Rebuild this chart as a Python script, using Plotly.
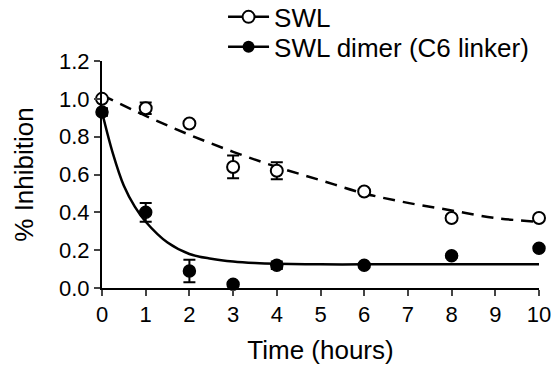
import plotly.graph_objects as go

# Measured data
time_h = [0, 1, 2, 3, 4, 6, 8, 10]
swl_mean = [1.00, 0.95, 0.87, 0.64, 0.62, 0.51, 0.37, 0.37]
swl_err = [0.01, 0.03, 0.01, 0.06, 0.045, 0.01, 0.01, 0.01]
dimer_mean = [0.93, 0.40, 0.09, 0.02, 0.12, 0.12, 0.17, 0.21]
dimer_err = [0.02, 0.05, 0.06, 0.01, 0.02, 0.01, 0.01, 0.01]

# Fitted curves
swl_fit_t = [0, 1, 2, 3, 4, 5, 6, 7, 8, 9, 10]
swl_fit_y = [1.02, 0.91, 0.81, 0.72, 0.64, 0.57, 0.50, 0.45, 0.41, 0.37, 0.35]
dimer_fit_t = [0, 0.25, 0.5, 0.75, 1, 1.5, 2, 2.5, 3, 3.5, 4, 5, 6, 7, 8, 9, 10]
dimer_fit_y = [0.93, 0.71, 0.54, 0.43, 0.35, 0.24, 0.18, 0.155, 0.14, 0.132, 0.128,
               0.125, 0.125, 0.125, 0.125, 0.125, 0.125]

x_ticks = list(range(0, 11))
y_ticks = [0.0, 0.2, 0.4, 0.6, 0.8, 1.0, 1.2]
y_tick_labels = ["0.0", "0.2", "0.4", "0.6", "0.8", "1.0", "1.2"]

FONT = "Liberation Sans, Arial, Helvetica, sans-serif"

fig = go.Figure()

fig.add_trace(go.Scatter(x=dimer_fit_t, y=dimer_fit_y, mode="lines", line=dict(color="black", width=2.5, shape="spline"),
                         showlegend=False, hoverinfo="skip", cliponaxis=False))
fig.add_trace(go.Scatter(x=swl_fit_t, y=swl_fit_y, mode="lines",
                         line=dict(color="black", width=2.5, dash="12px,8px", shape="spline"),
                         showlegend=False, hoverinfo="skip", cliponaxis=False))

fig.add_trace(go.Scatter(x=time_h, y=dimer_mean, mode="markers",
                         marker=dict(symbol="circle", size=12, color="black", line=dict(color="black", width=1.5)),
                         error_y=dict(type="data", array=dimer_err, color="black", thickness=2, width=6),
                         showlegend=False, cliponaxis=False))
fig.add_trace(go.Scatter(x=time_h, y=swl_mean, mode="markers",
                         marker=dict(symbol="circle", size=12, color="white", line=dict(color="black", width=2)),
                         error_y=dict(type="data", array=swl_err, color="black", thickness=2, width=6),
                         showlegend=False, cliponaxis=False))

# Legend entries
fig.add_trace(go.Scatter(x=[None], y=[None], mode="lines+markers", name="SWL", legend="legend",
                         line=dict(color="black", width=2.5),
                         marker=dict(symbol="circle", size=12, color="white", line=dict(color="black", width=2))))
fig.add_trace(go.Scatter(x=[None], y=[None], mode="lines+markers", name="SWL dimer (C6 linker)", legend="legend2",
                         line=dict(color="black", width=2.5),
                         marker=dict(symbol="circle", size=12, color="black")))

legend_common = dict(x=0.277, xanchor="left", yanchor="middle", font=dict(size=26),
                     itemwidth=41, bgcolor="rgba(0,0,0,0)")

fig.update_layout(
    width=555, height=370,
    margin=dict(l=102, r=16, t=61, b=82, autoexpand=False),
    paper_bgcolor="white", plot_bgcolor="white",
    font=dict(family=FONT, color="black"),
    legend=dict(y=1.194, **legend_common),
    legend2=dict(y=1.062, **legend_common),
    xaxis=dict(range=[0, 10], tickvals=x_ticks, ticks="outside", ticklen=6, tickwidth=2,
               showline=True, linewidth=2, linecolor="black", showgrid=False, zeroline=False,
               tickfont=dict(size=22), title=dict(text="Time (hours)", font=dict(size=26), standoff=14)),
    yaxis=dict(range=[0, 1.2], tickvals=y_ticks, ticktext=y_tick_labels, ticks="outside", ticklen=6, tickwidth=2,
               showline=True, linewidth=2, linecolor="black", showgrid=False, zeroline=False,
               tickfont=dict(size=22), title=dict(text="% Inhibition", font=dict(size=26), standoff=18)),
)

fig.write_html("out.html")
